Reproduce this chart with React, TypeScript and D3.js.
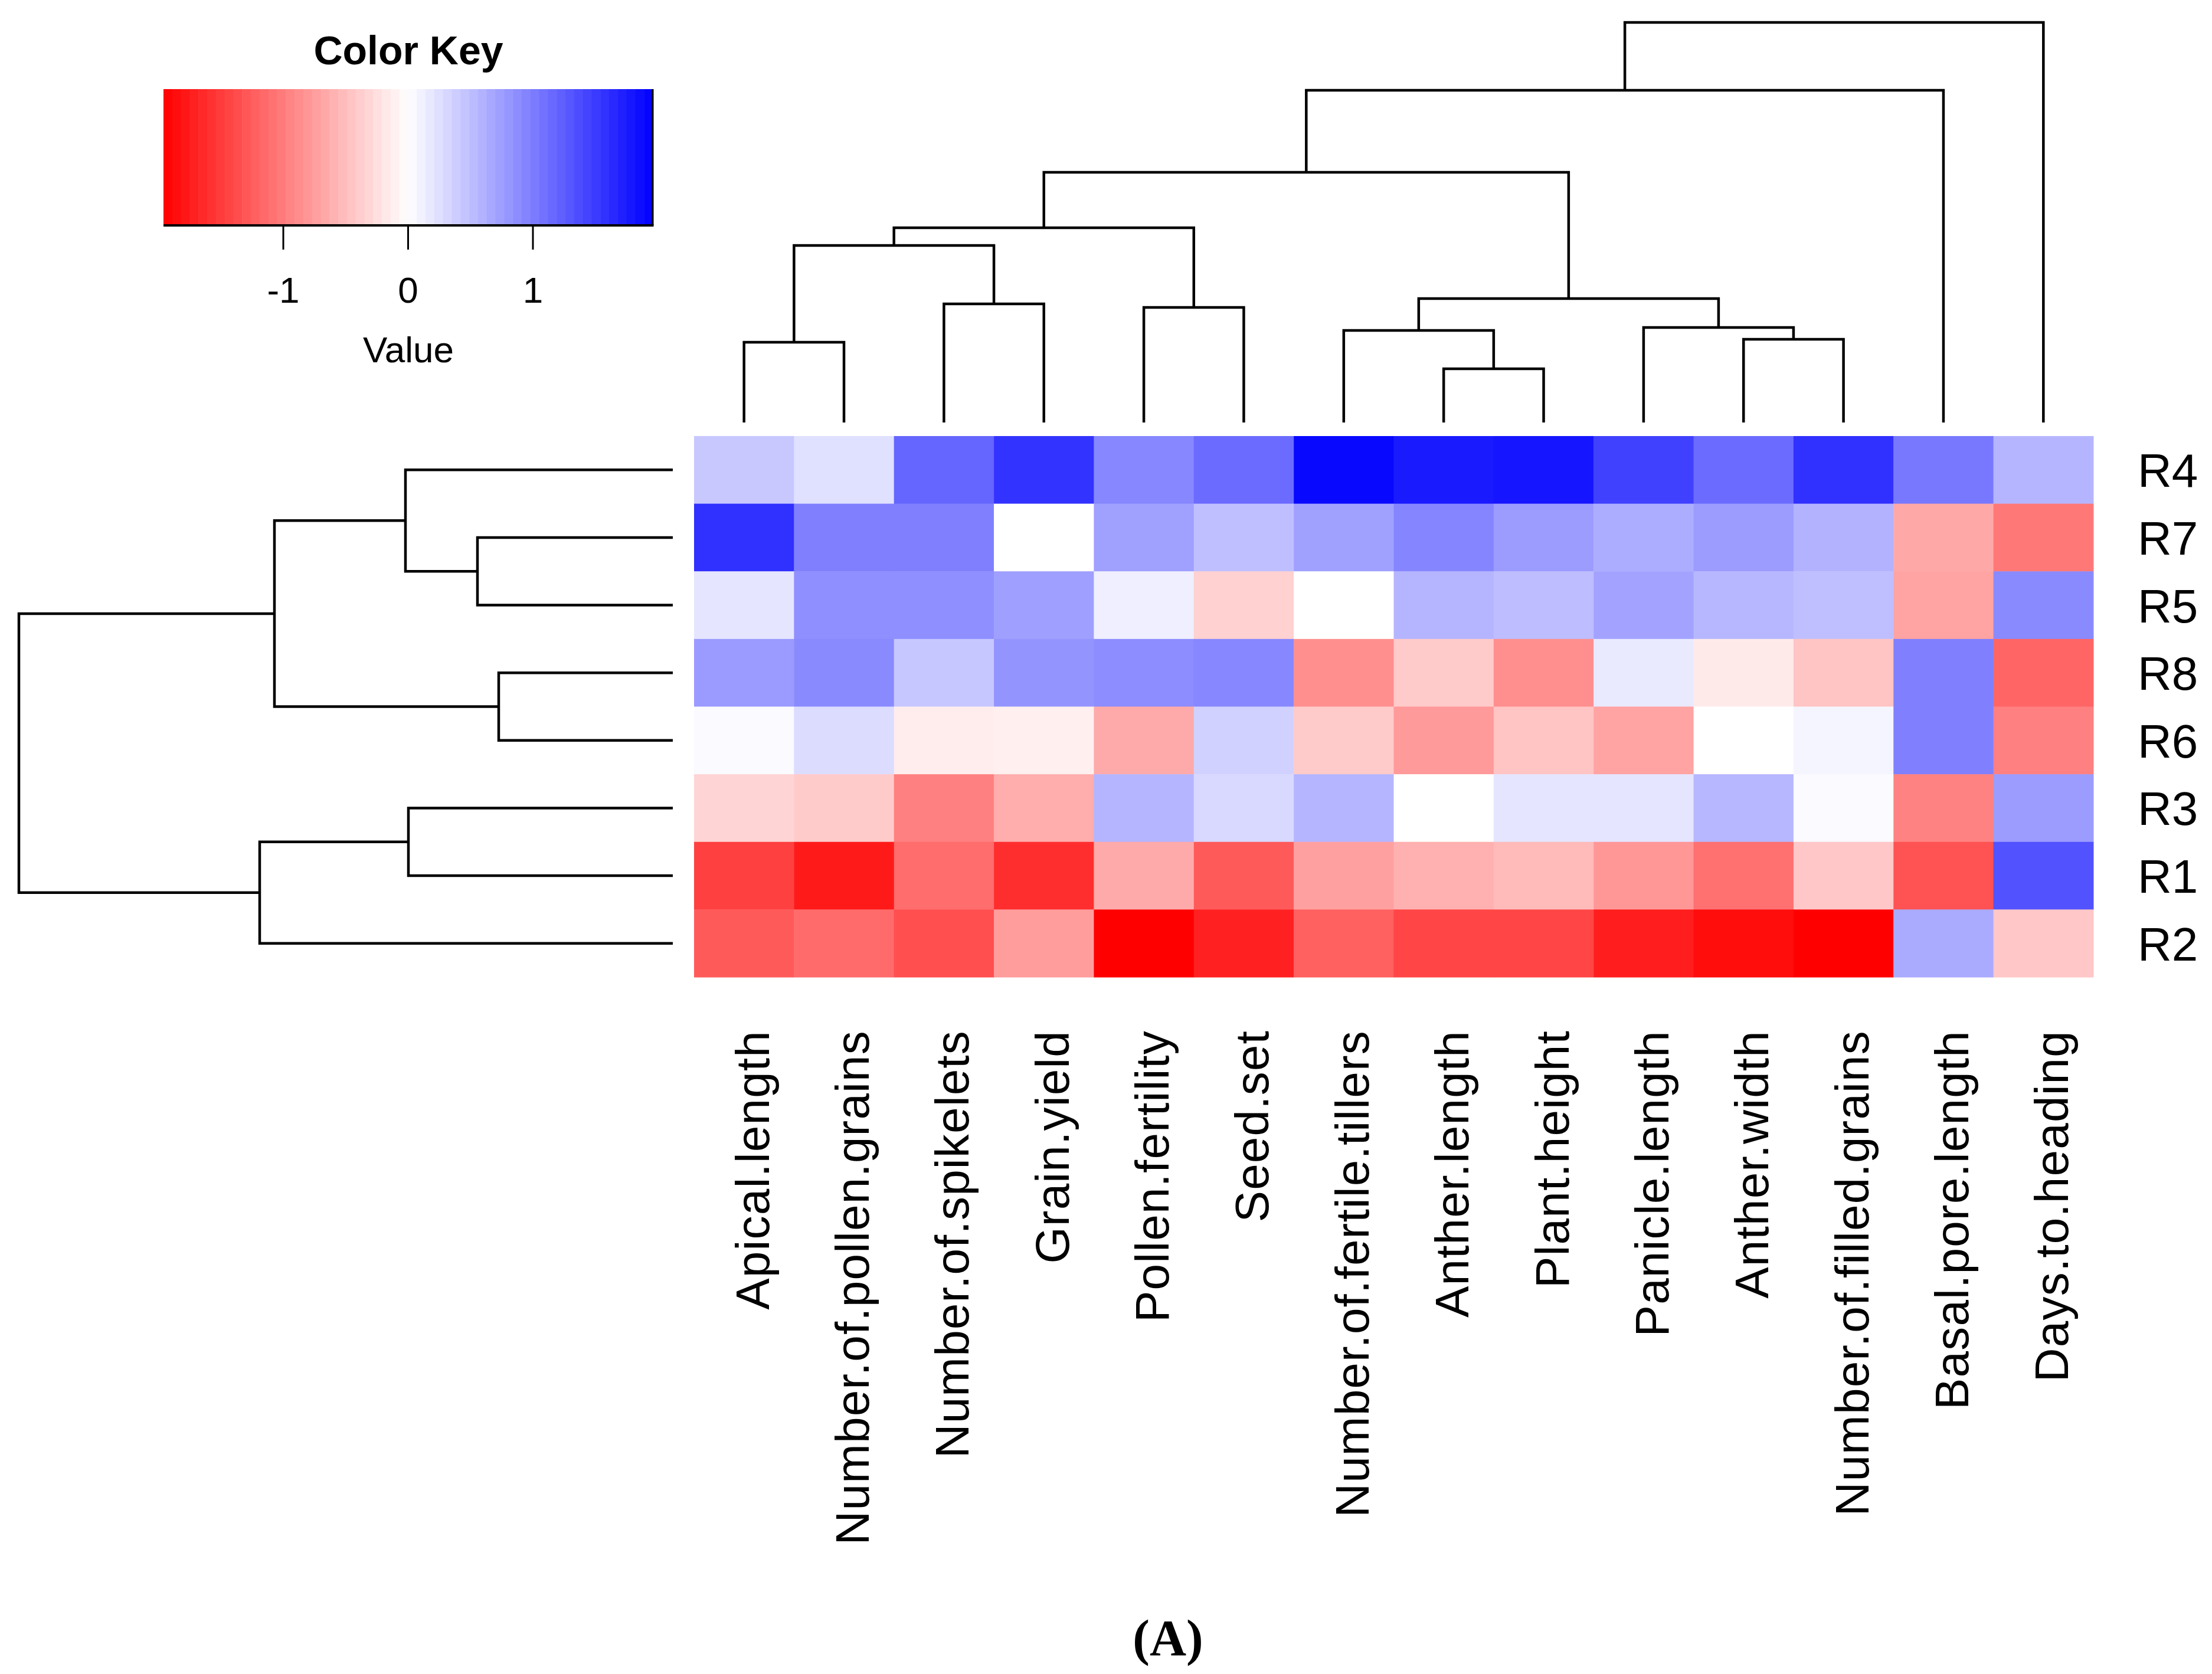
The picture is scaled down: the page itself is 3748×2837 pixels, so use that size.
import React from "react";
import * as d3 from "d3";

// Column (trait) labels in heatmap order
const traits = [
  "Apical.length",
  "Number.of.pollen.grains",
  "Number.of.spikelets",
  "Grain.yield",
  "Pollen.fertility",
  "Seed.set",
  "Number.of.fertile.tillers",
  "Anther.length",
  "Plant.height",
  "Panicle.length",
  "Anther.width",
  "Number.of.filled.grains",
  "Basal.pore.length",
  "Days.to.heading",
];

// Row labels, top to bottom
const rows = ["R4", "R7", "R5", "R8", "R6", "R3", "R1", "R2"];

// scaled values per row (same order as traits)
const valR4 = [0.42, 0.24, 1.18, 1.57, 0.92, 1.14, 1.9, 1.76, 1.8, 1.47, 1.14, 1.59, 1.04, 0.57];
const valR7 = [1.59, 0.98, 0.98, 0.0, 0.73, 0.49, 0.73, 0.94, 0.76, 0.63, 0.76, 0.59, -0.67, -1.04];
const valR5 = [0.2, 0.86, 0.86, 0.74, 0.12, -0.35, 0.0, 0.57, 0.51, 0.71, 0.55, 0.49, -0.71, 0.9];
const valR8 = [0.78, 0.9, 0.43, 0.82, 0.88, 0.92, -0.86, -0.41, -0.86, 0.16, -0.16, -0.45, 0.98, -1.18];
const valR6 = [0.04, 0.27, -0.14, -0.12, -0.65, 0.35, -0.41, -0.78, -0.45, -0.71, 0.0, 0.08, 0.98, -0.98];
const valR3 = [-0.33, -0.41, -0.98, -0.63, 0.57, 0.29, 0.57, 0.0, 0.2, 0.2, 0.55, 0.04, -0.96, 0.76];
const valR1 = [-1.47, -1.76, -1.12, -1.61, -0.65, -1.27, -0.73, -0.61, -0.53, -0.8, -1.1, -0.43, -1.33, 1.33];
const valR2 = [-1.27, -1.14, -1.35, -0.76, -1.96, -1.71, -1.22, -1.43, -1.43, -1.74, -1.86, -1.96, 0.65, -0.43];
const matrix = [valR4, valR7, valR5, valR8, valR6, valR3, valR1, valR2];

const keyTicks = [-1, 0, 1];
const keyRange = 1.96;
const keyBins = 56;

// dendrograms: leaves are indices, internal nodes carry a merge height
type Node = number | { h: number; children: [Node, Node] };

const colTree: Node = {
  h: 6.78,
  children: [
    {
      h: 5.63,
      children: [
        {
          h: 4.24,
          children: [
            {
              h: 3.3,
              children: [
                { h: 3.0, children: [{ h: 1.36, children: [0, 1] }, { h: 2.01, children: [2, 3] }] },
                { h: 1.95, children: [4, 5] },
              ],
            },
            {
              h: 2.1,
              children: [
                { h: 1.56, children: [6, { h: 0.91, children: [7, 8] }] },
                { h: 1.61, children: [9, { h: 1.41, children: [10, 11] }] },
              ],
            },
          ],
        },
        12,
      ],
    },
    13,
  ],
};

const rowTree: Node = {
  h: 11.08,
  children: [
    {
      h: 6.75,
      children: [
        { h: 4.53, children: [0, { h: 3.31, children: [1, 2] }] },
        { h: 2.95, children: [3, 4] },
      ],
    },
    { h: 7.0, children: [{ h: 4.48, children: [5, 6] }, 7] },
  ],
};

const W = 3748;
const H = 2837;
const font = "'Liberation Sans', Arial, sans-serif";

// collect elbow segments of a dendrogram
function dendroPaths(
  node: Node,
  leafPos: (i: number) => number,
  hPos: (h: number) => number,
  horizontal: boolean
) {
  const paths: string[] = [];
  const walk = (n: Node): { p: number; h: number } => {
    if (typeof n === "number") return { p: leafPos(n), h: 0 };
    const a = walk(n.children[0]);
    const b = walk(n.children[1]);
    const hn = hPos(n.h);
    if (horizontal) {
      // row dendrogram: p is y, height maps to x
      paths.push(`M${hPos(a.h)},${a.p}H${hn}V${b.p}H${hPos(b.h)}`);
    } else {
      paths.push(`M${a.p},${hPos(a.h)}V${hn}H${b.p}V${hPos(b.h)}`);
    }
    return { p: (a.p + b.p) / 2, h: n.h };
  };
  walk(node);
  return paths;
}

const App: React.FC = () => {
  const x = d3.scaleBand<number>().domain(d3.range(traits.length)).range([1176, 3547]);
  const y = d3.scaleBand<number>().domain(d3.range(rows.length)).range([739, 1656]);
  const color = d3
    .scaleLinear<string>()
    .domain([-keyRange, 0, keyRange])
    .range(["#ff0000", "#ffffff", "#0000ff"])
    .clamp(true);

  const colH = d3.scaleLinear().domain([0, 6.78]).range([716, 38]);
  const rowH = d3.scaleLinear().domain([0, 11.08]).range([1140, 32]);
  const colPaths = dendroPaths(colTree, (i) => x(i)! + x.bandwidth() / 2, colH, false);
  const rowPaths = dendroPaths(rowTree, (i) => y(i)! + y.bandwidth() / 2, rowH, true);

  const kx = d3.scaleLinear().domain([-keyRange, keyRange]).range([277, 1106]);
  const keyTop = 151;
  const keyBottom = 382;
  const binW = (2 * keyRange) / keyBins;
  const bins = d3.range(keyBins).map((i) => -keyRange + i * binW);

  return (
    <svg
      width={W}
      height={H}
      style={{ position: "absolute", left: 0, top: 0, background: "#fff" }}
      fontFamily={font}
    >
      <rect width={W} height={H} fill="#fff" />

      {/* color key */}
      <text x={692} y={109} fontSize={68} fontWeight="bold" textAnchor="middle">
        Color Key
      </text>
      {bins.map((b, i) => (
        <rect
          key={i}
          x={kx(b)}
          y={keyTop}
          width={kx(b + binW) - kx(b) + 0.6}
          height={keyBottom - keyTop}
          fill={color(b + binW / 2)}
        />
      ))}
      <line x1={kx(keyRange)} x2={kx(keyRange)} y1={keyTop} y2={keyBottom} stroke="#000" strokeWidth={3} />
      <line x1={kx(-keyRange)} x2={kx(keyRange) + 1.5} y1={keyBottom} y2={keyBottom} stroke="#000" strokeWidth={4} />
      {keyTicks.map((t) => (
        <g key={t}>
          <line x1={kx(t)} x2={kx(t)} y1={keyBottom} y2={423} stroke="#000" strokeWidth={3} />
          <text x={kx(t)} y={513} fontSize={62} textAnchor="middle">
            {t}
          </text>
        </g>
      ))}
      <text x={692} y={614} fontSize={62} textAnchor="middle">
        Value
      </text>

      {/* heatmap cells */}
      {matrix.map((row, r) =>
        row.map((v, c) => (
          <rect
            key={`${r}-${c}`}
            x={x(c)}
            y={y(r)}
            width={x.bandwidth() + 0.5}
            height={y.bandwidth() + 0.5}
            fill={color(v)}
          />
        ))
      )}

      {/* dendrograms */}
      <g fill="none" stroke="#000" strokeWidth={4.5}>
        {colPaths.map((d, i) => (
          <path key={`c${i}`} d={d} />
        ))}
        {rowPaths.map((d, i) => (
          <path key={`r${i}`} d={d} />
        ))}
      </g>

      {/* row labels */}
      {rows.map((r, i) => (
        <text key={r} x={3622} y={y(i)! + y.bandwidth() / 2 + 29} fontSize={80}>
          {r}
        </text>
      ))}

      {/* column labels */}
      {traits.map((t, i) => {
        const cx = x(i)! + x.bandwidth() / 2 + 42;
        return (
          <text
            key={t}
            x={cx}
            y={1746}
            fontSize={80}
            letterSpacing={1.2}
            textAnchor="end"
            transform={`rotate(-90,${cx},1746)`}
          >
            {t}
          </text>
        );
      })}

      <text
        x={1979}
        y={2805}
        fontSize={86}
        fontWeight="bold"
        textAnchor="middle"
        fontFamily="'Liberation Serif', 'Times New Roman', serif"
      >
        (A)
      </text>
    </svg>
  );
};

export default App;
